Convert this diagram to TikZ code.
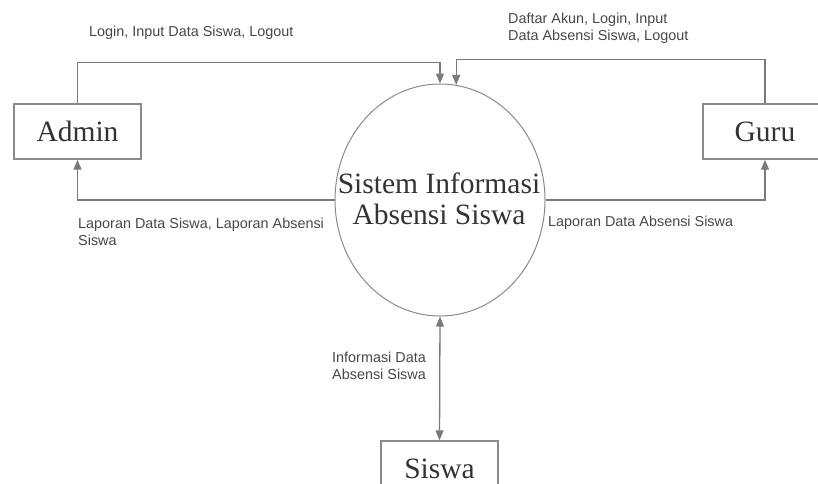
\documentclass[tikz,border=0pt]{standalone}
\usepackage{fontspec}
\setmainfont{Liberation Serif}
\setsansfont{Liberation Sans}
\usepackage{tikz}
\usetikzlibrary{shapes,arrows.meta,positioning}
\definecolor{linegray}{HTML}{7A7A7A}
\definecolor{boxgray}{HTML}{8A8A8A}
\definecolor{textgray}{HTML}{333333}
\tikzset{
	entity/.style  = {shape=rectangle, draw=boxgray, line width=1.4pt,
		minimum height=55pt, inner sep=0pt, text=textgray,
		font=\fontsize{29.5}{32}\selectfont},
	process/.style = {ellipse, draw=boxgray, line width=1pt,
		minimum width=210pt, minimum height=232pt, inner sep=0pt},
	processtext/.style = {align=center, inner sep=0pt, text=textgray,
		font=\fontsize{29.5}{31}\selectfont},
	flowlabel/.style = {anchor=west, inner sep=0pt, align=left,
		text=textgray!90, font=\sffamily\fontsize{14.4}{17}\selectfont},
	flow/.style = {draw=linegray, line width=1.3pt,
		-{Triangle[length=10pt,width=8pt]}},
}
\tikzstyle{both} = [flow, {Triangle[length=10pt,width=8pt]}-{Triangle[length=10pt,width=8pt]}]
\begin{document}
\begin{tikzpicture}[x=1pt,y=-1pt]
\useasboundingbox (0,0) rectangle (818,483);
\node [process] (sis) at (440,200) {};
\node [processtext] (sistext) at (439,199) {
	Sistem Informasi\\Absensi Siswa
};
\node [entity, minimum width=127pt] (admin) at (77.5,131.5) {Admin};
\node [entity, minimum width=124pt] (guru) at (765,131.5) {Guru};
\node [entity, minimum width=117pt] (siswa) at (439.5,468.5) {Siswa};

% arus data
\path [flow] (admin.north) -- ++(0,-41) -| (sis.north);
\path [flow] (guru.north) -- ++(0,-44) -| (sis.82);
\path [flow] (sis.west) -| (admin.south);
\path [flow] (sis.east) -| (guru.south);
\path [both] (sis.south) -- (siswa.north);

\node [flowlabel] (lbladmin) at (89,33) {Login, Input Data Siswa, Logout};
\node [flowlabel] (lblguru) at (508,28.5) {Daftar Akun, Login, Input\\Data Absensi Siswa, Logout};
\node [flowlabel] (lbllapadmin) at (78,232) {Laporan Data Siswa, Laporan Absensi\\Siswa};
\node [flowlabel] (lbllapguru) at (548,223) {Laporan Data Absensi Siswa};
\node [flowlabel] (lblsiswa) at (332,366) {Informasi Data\\Absensi Siswa};
\end{tikzpicture}
\end{document}
